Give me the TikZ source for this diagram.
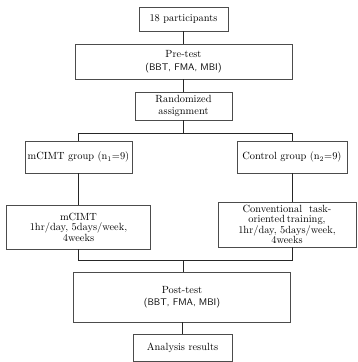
\documentclass[tikz,border=0pt]{standalone}
\usepackage{tikz}
\usetikzlibrary{positioning, calc}

\begin{document}
\begin{tikzpicture}[x=1pt, y=-1pt]
		\tikzstyle{taskb}=[draw=black!70, line width=0.6pt, align=center, inner sep=1pt, font=\fontsize{10.4}{12.5}\selectfont]
		\tikzstyle{taskt}=[taskb, font=\fontsize{10.4}{10.4}\selectfont]
		\tikzstyle{link}=[draw=black!85, line width=0.8pt]
		%%
		\useasboundingbox (0,0) rectangle (357,362);
		\node (n01) at (183.5, 19) [taskb, minimum width=89pt, minimum height=24pt] {18 participants};
		\node (n02) at (183.5, 61.5) [taskb, minimum width=217pt, minimum height=35pt] {Pre-test\\{\sffamily\fontsize{9.6}{12.5}\selectfont (BBT, FMA, MBI)}};
		\node (n03) at (183.5, 106) [taskb, minimum width=97pt, minimum height=28pt] {Randomized\\assignment};
		\node (n11) at (78.5, 157) [taskb, minimum width=107pt, minimum height=32pt] {mCIMT group (n$_1$=9)};
		\node (n12) at (292, 157) [taskb, minimum width=110pt, minimum height=32pt] {Control group (n$_2$=9)};
		\node (n21) at (78.5, 227) [taskt, minimum width=144pt, minimum height=44pt] {mCIMT\\1hr/day, 5days/week,\\4weeks};
		\node (n22) at (287, 224.5) [taskt, minimum width=138pt, minimum height=45pt, inner sep=0pt] {Conventional\ \ task-\\oriented\,training,\\1hr/day, 5days/week,\\4weeks};
		\node (n31) at (182, 297) [taskb, minimum width=217pt, minimum height=50pt] {Post-test\\{\sffamily\fontsize{9.6}{12.5}\selectfont (BBT, FMA, MBI)}};
		\node (n41) at (182.5, 347.5) [taskb, minimum width=99pt, minimum height=27pt] {Analysis results};
		
		\coordinate (s01) at (183.5, 133);
		\coordinate (j01) at (183.5, 260);
		
		\draw [link] (n01) -- (n02);
		\draw [link] (n02) -- (n03);
		\draw [link] (n03.south) -- (s01);
		\draw [link] (s01) -| (n11.north);
		\draw [link] (s01) -| (n12.north);
		\draw [link] (n11) -- (n21);
		\draw [link] (n12.south) -- (n12.south |- n22.north);
		\draw [link] (n21.south) |- (j01);
		\draw [link] (n12.south |- n22.south) |- (j01);
		\draw [link] (j01) -- (j01 |- n31.north);
		\draw [link] (n31.south -| n41) -- (n41);
\end{tikzpicture}
\end{document}
